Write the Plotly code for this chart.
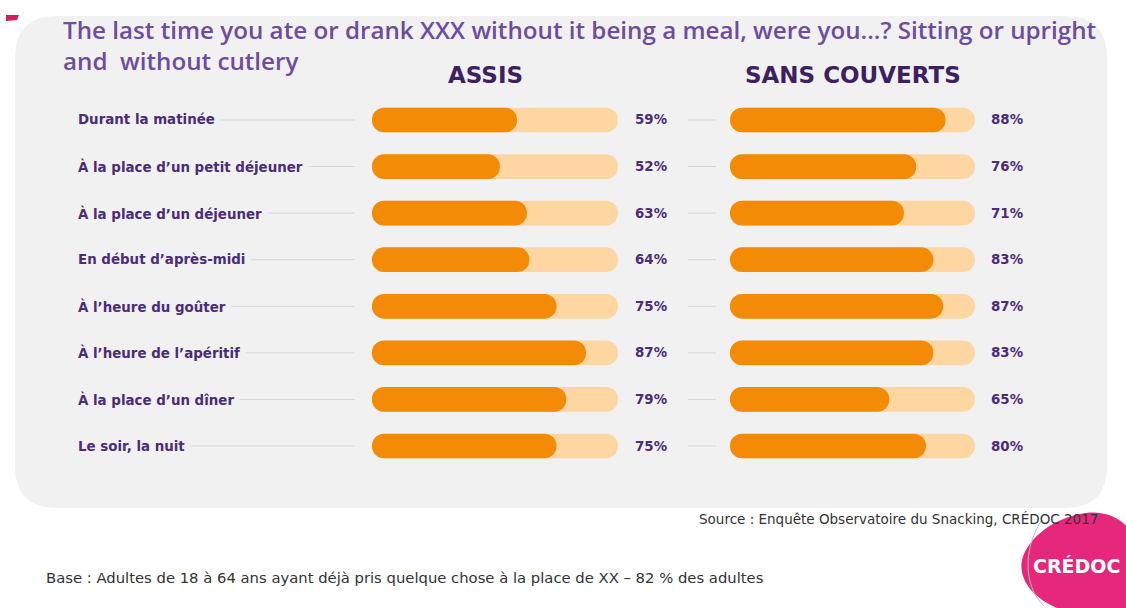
import plotly.graph_objects as go

W, H = 1126, 608

# ---- data -------------------------------------------------------------
categories = [
    "Durant la matinée",
    "À la place d’un petit déjeuner",
    "À la place d’un déjeuner",
    "En début d’après-midi",
    "À l’heure du goûter",
    "À l’heure de l’apéritif",
    "À la place d’un dîner",
    "Le soir, la nuit",
]
assis = [59, 52, 63, 64, 75, 87, 79, 75]
sans_couverts = [88, 76, 71, 83, 87, 83, 65, 80]
full_scale = [100] * len(categories)

panel_titles = ["ASSIS", "SANS COUVERTS"]
title_lines = [
    "The last time you ate or drank XXX without it being a meal, were you...? Sitting or upright",
    "and\u00a0 without cutlery",
]
source_text = "Source : Enquête Observatoire du Snacking, CRÉDOC 2017"
base_text = "Base : Adultes de 18 à 64 ans ayant déjà pris quelque chose à la place de XX – 82 % des adultes"

# ---- styling ------------------------------------------------------------
ORANGE = "#f38b06"
PEACH = "#fdd6a2"
PANEL = "#f1f1f1"
TITLE_PURPLE = "#6e4c9f"
DARK_PURPLE = "#3c205f"
LABEL_PURPLE = "#4a2c78"
PINK = "#e5287b"
BAR_W = 0.53
LABEL_FONT = dict(family="DejaVu Sans", size=13.4, color=LABEL_PURPLE, weight=700)


def px(x):
    return x / W


def py(y):
    return 1 - y / H


def path(points_cmd):
    """Build an SVG path in paper coordinates from pixel commands."""
    out = []
    for item in points_cmd:
        if isinstance(item, str):
            out.append(item)
        else:
            out.append(f"{px(item[0]):.5f},{py(item[1]):.5f}")
    return " ".join(out)


def rounded_rect(x0, y0, x1, y1, r):
    return path([
        "M", (x0 + r, y0), "L", (x1 - r, y0),
        "Q", (x1, y0), (x1, y0 + r),
        "L", (x1, y1 - r),
        "Q", (x1, y1), (x1 - r, y1),
        "L", (x0 + r, y1),
        "Q", (x0, y1), (x0, y1 - r),
        "L", (x0, y0 + r),
        "Q", (x0, y0), (x0 + r, y0), "Z",
    ])


def pill(fig, values, color, xa):
    """Horizontal bar rounded at both ends (an explicit base makes plotly
    round the start of the bar as well as its tip)."""
    fig.add_trace(go.Bar(
        x=values, base=[0] * len(values), y=categories, orientation="h",
        xaxis=xa, yaxis="y", width=BAR_W,
        marker=dict(color=color, cornerradius="50%", line=dict(width=0)),
        hoverinfo="skip", showlegend=False,
    ))


fig = go.Figure()
for series, xa in ((assis, "x"), (sans_couverts, "x2")):
    pill(fig, full_scale, PEACH, xa)
    pill(fig, series, ORANGE, xa)

shapes = [
    # light rounded background panel
    dict(type="path", xref="paper", yref="paper", layer="below",
         path=rounded_rect(15, 16, 1107, 508, 42),
         fillcolor=PANEL, line=dict(width=0)),
    # small accent mark at the top-left corner
    dict(type="path", xref="paper", yref="paper", layer="above",
         path=path(["M", (6, 15), "L", (19, 15), "L", (17, 20), "L", (6, 21), "Z"]),
         fillcolor="#d21f55", line=dict(width=0)),
    # CRÉDOC logo blob
    dict(type="path", xref="paper", yref="paper", layer="above",
         path=path(["M", (1086, 513),
                    "C", (1112, 510), (1132, 524), (1136, 546),
                    "L", (1136, 610), "L", (1062, 610),
                    "C", (1034, 600), (1018, 580), (1022, 560),
                    "C", (1028, 536), (1058, 516), (1086, 513), "Z"]),
         fillcolor=PINK, line=dict(width=0)),
    dict(type="path", xref="paper", yref="paper", layer="above",
         path=path(["M", (1042, 520), "C", (1024, 546), (1022, 585), (1044, 606)]),
         line=dict(color="#b9b9b9", width=1)),
]

annotations = []
for i, cat in enumerate(categories):
    # leader lines (the label box masks the part under the text)
    shapes.append(dict(type="line", xref="paper", yref="y", layer="below",
                       x0=px(82), x1=px(355), y0=i, y1=i,
                       line=dict(color="#d6d6d6", width=1)))
    shapes.append(dict(type="line", xref="paper", yref="y", layer="below",
                       x0=px(688), x1=px(716), y0=i, y1=i,
                       line=dict(color="#d6d6d6", width=1)))
    annotations.append(dict(
        x=px(72), y=i, xref="paper", yref="y", xanchor="left", yanchor="middle",
        text=cat, showarrow=False, bgcolor=PANEL, borderpad=5, font=LABEL_FONT,
    ))
    annotations.append(dict(
        x=px(633), y=i, xref="paper", yref="y", xanchor="left", yanchor="middle",
        text=f"{assis[i]}%", showarrow=False, font=LABEL_FONT,
    ))
    annotations.append(dict(
        x=px(989), y=i, xref="paper", yref="y", xanchor="left", yanchor="middle",
        text=f"{sans_couverts[i]}%", showarrow=False, font=LABEL_FONT,
    ))

# title lines
for line, yc in zip(title_lines, (30, 60)):
    annotations.append(dict(
        x=px(61), y=py(yc), xref="paper", yref="paper", xanchor="left", yanchor="middle",
        text=line, showarrow=False,
        font=dict(family="Open Sans", size=24.2, color=TITLE_PURPLE, weight=600),
    ))

# panel headers
for t, xc in zip(panel_titles, (485, 853)):
    annotations.append(dict(
        x=px(xc), y=py(75), xref="paper", yref="paper", xanchor="center", yanchor="middle",
        text=t, showarrow=False,
        font=dict(family="DejaVu Sans", size=23, color=DARK_PURPLE, weight=700),
    ))

annotations.append(dict(
    x=px(1100), y=py(519), xref="paper", yref="paper", xanchor="right", yanchor="middle",
    text=source_text, showarrow=False,
    font=dict(family="DejaVu Sans", size=13.5, color="#333333"),
))
annotations.append(dict(
    x=px(44), y=py(577), xref="paper", yref="paper", xanchor="left", yanchor="middle",
    text=base_text, showarrow=False,
    font=dict(family="DejaVu Sans", size=14.8, color="#333333"),
))
annotations.append(dict(
    x=px(1031), y=py(566), xref="paper", yref="paper", xanchor="left", yanchor="middle",
    text="CRÉDOC", showarrow=False,
    font=dict(family="DejaVu Sans", size=19, color="white", weight=700),
))

axis_off = dict(visible=False, fixedrange=True)
fig.update_layout(
    width=W, height=H,
    margin=dict(l=0, r=0, t=0, b=0),
    paper_bgcolor="white",
    plot_bgcolor="rgba(0,0,0,0)",
    barmode="overlay",
    showlegend=False,
    xaxis=dict(domain=[px(372), px(618)], range=[0, 100], anchor="y", **axis_off),
    xaxis2=dict(domain=[px(730), px(975)], range=[0, 100], anchor="y", **axis_off),
    yaxis=dict(domain=[py(469.3), py(96.7)], type="category",
               categoryorder="array", categoryarray=categories,
               range=[len(categories) - 0.5, -0.5], **axis_off),
    shapes=shapes,
    annotations=annotations,
)

fig.write_html("out.html")
